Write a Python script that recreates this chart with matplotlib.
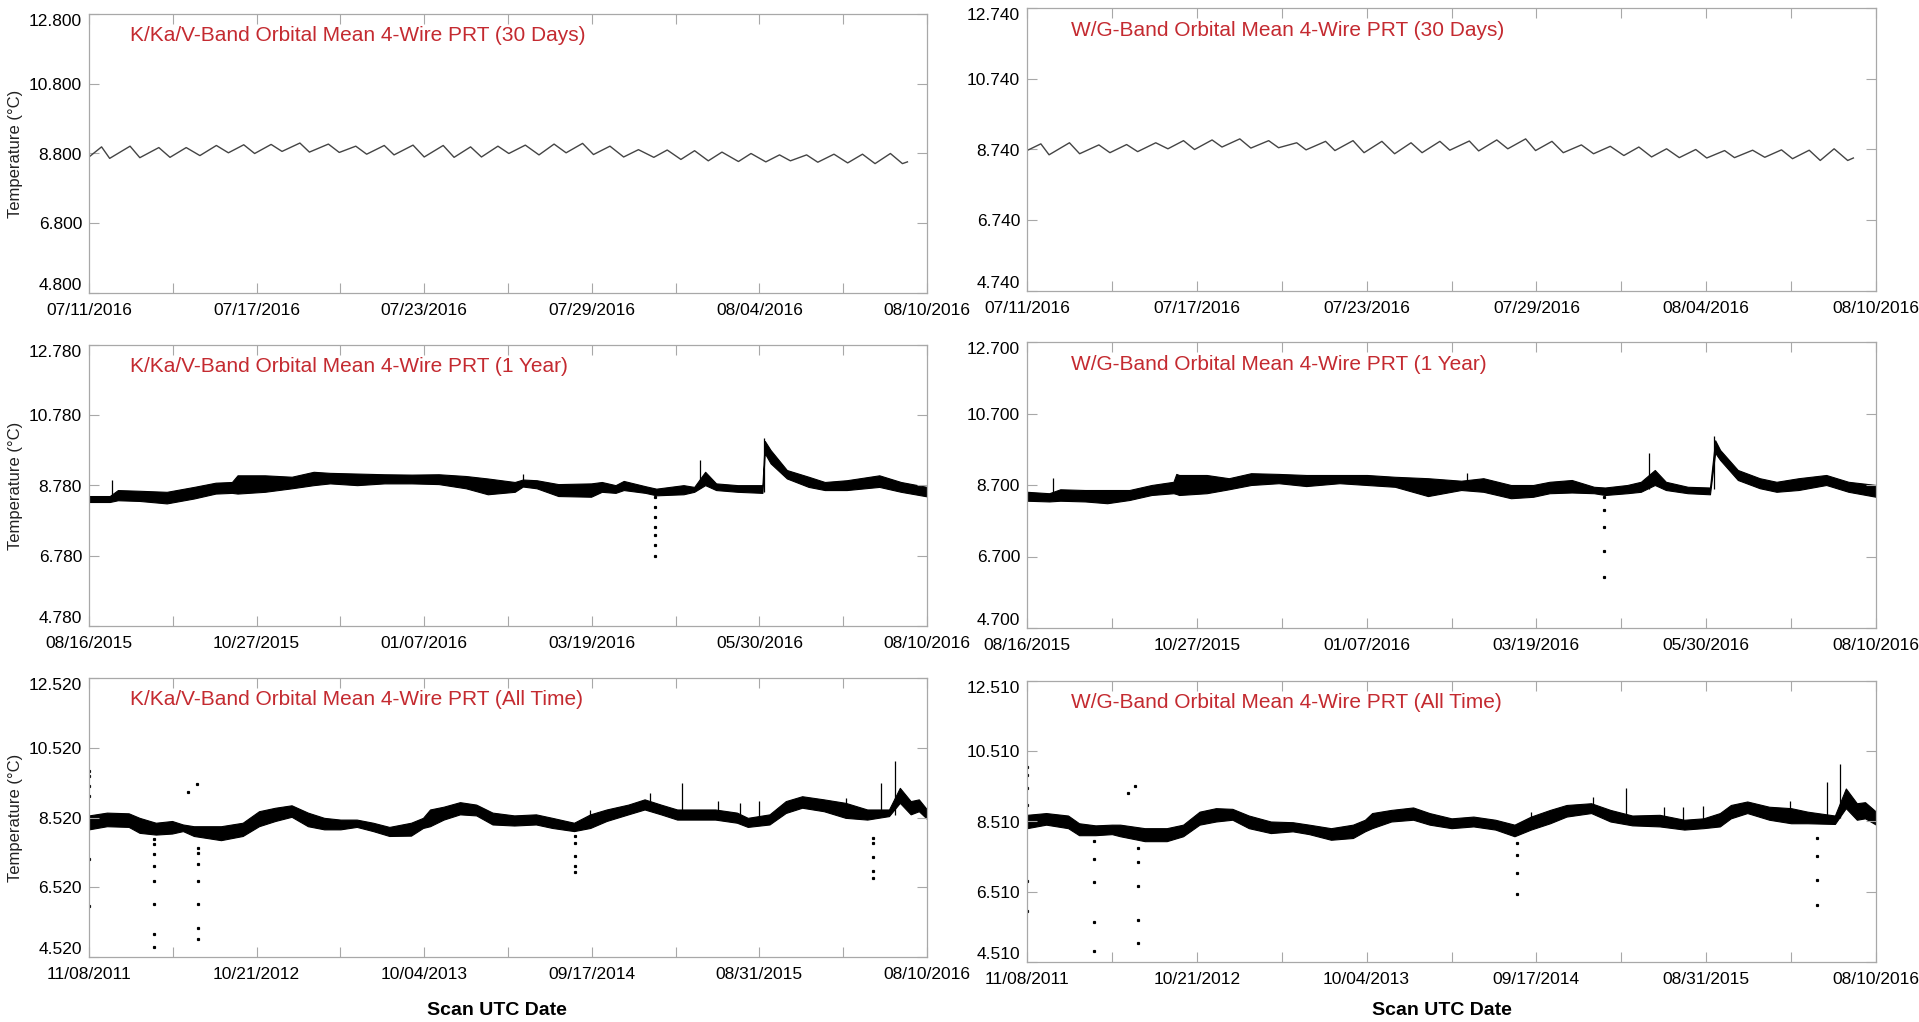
"""
Orbital mean 4-wire PRT temperatures, K/Ka/V-band and W/G-band,
shown over 30 days, 1 year and the whole mission.
"""

import matplotlib
matplotlib.use("Agg")
import matplotlib.pyplot as plt
import numpy as np

plt.rcParams["font.family"] = ["Liberation Sans", "DejaVu Sans"]

# ---------------------------------------------------------------------------
# Data (x = days since the panel's first date)
# ---------------------------------------------------------------------------

# 30-day panels: alternating peaks and troughs of the daily cycle
kkv_30_days = [0.0, 0.45, 0.74, 1.47, 1.82, 2.50, 2.90, 3.48, 3.97, 4.56, 4.99,
               5.54, 5.93, 6.52, 6.91, 7.55, 7.89, 8.57, 8.96, 9.55, 9.94,
               10.57, 10.92, 11.60, 12.00, 12.68, 13.07, 13.66, 14.05, 14.64,
               15.03, 15.62, 16.11, 16.65, 17.08, 17.67, 18.06, 18.65, 19.14,
               19.67, 20.22, 20.70, 21.19, 21.68, 22.17, 22.66, 23.25, 23.70,
               24.23, 24.72, 25.11, 25.69, 26.09, 26.67, 27.16, 27.69, 28.14,
               28.69, 29.12, 29.30]
kkv_30_vals = [8.70, 8.99, 8.66, 9.01, 8.68, 8.97, 8.69, 8.97, 8.74, 9.03, 8.82,
               9.05, 8.80, 9.06, 8.86, 9.10, 8.84, 9.07, 8.83, 9.01, 8.78,
               9.03, 8.76, 9.04, 8.70, 9.03, 8.69, 8.99, 8.70, 9.01,
               8.80, 9.04, 8.76, 9.07, 8.82, 9.09, 8.77, 9.01, 8.70,
               8.91, 8.69, 8.90, 8.63, 8.88, 8.59, 8.84, 8.57, 8.80,
               8.56, 8.76, 8.59, 8.76, 8.55, 8.78, 8.53, 8.78, 8.51,
               8.80, 8.51, 8.56]

wg_30_days = [0.0, 0.49, 0.78, 1.50, 1.86, 2.54, 2.93, 3.52, 3.91, 4.55, 4.98,
              5.53, 5.92, 6.54, 6.89, 7.52, 7.91, 8.54, 8.89, 9.53, 9.86,
              10.55, 10.88, 11.52, 11.91, 12.54, 12.99, 13.57, 13.96, 14.59,
              14.94, 15.63, 15.96, 16.60, 16.99, 17.62, 17.97, 18.55, 18.95,
              19.59, 20.02, 20.61, 21.09, 21.62, 22.07, 22.60, 23.05, 23.63,
              24.02, 24.65, 25.00, 25.64, 26.07, 26.66, 27.05, 27.64, 28.03,
              28.52, 29.00, 29.20]
wg_30_vals = [8.71, 8.90, 8.59, 8.93, 8.62, 8.87, 8.65, 8.88, 8.68, 8.93, 8.76,
              8.99, 8.74, 9.01, 8.81, 9.04, 8.78, 8.99, 8.79, 8.93, 8.73,
              8.97, 8.71, 8.99, 8.65, 8.97, 8.62, 8.93, 8.65, 8.97,
              8.72, 8.98, 8.70, 9.01, 8.76, 9.04, 8.71, 8.97, 8.65,
              8.87, 8.62, 8.83, 8.57, 8.81, 8.53, 8.76, 8.51, 8.74,
              8.50, 8.71, 8.51, 8.72, 8.52, 8.73, 8.48, 8.72, 8.43,
              8.76, 8.43, 8.50]

# 1-year panels: upper / lower edge of the orbital scatter band
kkv_1y_days = [0, 8.9, 12.4, 21.7, 33.4, 45.1, 54.4, 61.4, 63.8, 75.5, 87.1,
               96.5, 103.5, 115.2, 126.9, 138.6, 150.2, 161.9, 171.3, 182.9,
               186.4, 192.3, 201.6, 215.7, 220.3, 226.2, 229.7, 239.0, 243.7,
               255.4, 260.0, 264.7, 269.4, 278.7, 289.3, 290.3, 292.8, 299.8,
               309.1, 316.1, 325.5, 339.5, 348.8, 360]
kkv_1y_hi = [8.48, 8.48, 8.65, 8.63, 8.60, 8.74, 8.86, 8.88, 9.07, 9.07, 9.03,
             9.17, 9.14, 9.12, 9.10, 9.09, 9.10, 9.05, 8.98, 8.88,
             8.95, 8.93, 8.82, 8.84, 8.88, 8.79, 8.91, 8.76, 8.69,
             8.79, 8.74, 9.17, 8.84, 8.79, 8.79, 10.05, 9.79, 9.22,
             9.03, 8.88, 8.93, 9.07, 8.88, 8.74]
kkv_1y_lo = [8.31, 8.31, 8.36, 8.34, 8.27, 8.41, 8.55, 8.57, 8.55, 8.60, 8.70,
             8.79, 8.84, 8.79, 8.84, 8.84, 8.82, 8.70, 8.53, 8.60,
             8.75, 8.70, 8.48, 8.46, 8.60, 8.57, 8.65, 8.57, 8.50,
             8.53, 8.60, 8.79, 8.65, 8.60, 8.57, 9.70, 9.41, 8.98,
             8.74, 8.65, 8.65, 8.74, 8.60, 8.47]
kkv_1y_spike_days = [10.0, 186.4, 262.4, 289.9]
kkv_1y_spike_lo = [8.40, 8.80, 8.70, 8.60]
kkv_1y_spike_hi = [8.93, 9.12, 9.50, 10.12]
kkv_1y_out_days = [243.2] * 7
kkv_1y_out_vals = [8.46, 8.17, 7.89, 7.60, 7.37, 7.08, 6.77]

wg_1y_days = [0, 9.4, 14.1, 24.6, 34.0, 43.4, 52.8, 62.1, 63.3, 64.5, 76.2,
              85.6, 95.0, 106.7, 118.4, 132.5, 144.2, 156.0, 170.0, 184.1,
              193.5, 205.2, 214.6, 221.6, 231.0, 240.4, 245.1, 254.5, 260.3,
              266.2, 270.9, 280.2, 289.6, 291.8, 293.9, 301.4, 310.7, 317.8,
              327.2, 338.9, 348.3, 360]
wg_1y_hi = [8.51, 8.47, 8.58, 8.56, 8.56, 8.56, 8.70, 8.79, 9.01, 8.98, 8.98,
            8.89, 9.03, 9.01, 8.98, 8.98, 8.98, 8.93, 8.89, 8.82,
            8.89, 8.70, 8.70, 8.79, 8.84, 8.65, 8.63, 8.70, 8.79,
            9.12, 8.79, 8.65, 8.63, 9.95, 9.68, 9.12, 8.89, 8.79,
            8.89, 8.98, 8.79, 8.70]
wg_1y_lo = [8.26, 8.24, 8.26, 8.24, 8.19, 8.28, 8.42, 8.47, 8.45, 8.42, 8.47,
            8.58, 8.70, 8.75, 8.67, 8.75, 8.70, 8.65, 8.39, 8.56,
            8.51, 8.33, 8.37, 8.47, 8.49, 8.47, 8.42, 8.47, 8.51,
            8.70, 8.56, 8.47, 8.44, 9.60, 9.40, 8.84, 8.61, 8.51,
            8.56, 8.70, 8.51, 8.37]
wg_1y_spike_days = [11.0, 186.4, 263.8, 291.5]
wg_1y_spike_lo = [8.30, 8.60, 8.60, 8.60]
wg_1y_spike_hi = [8.89, 9.04, 9.60, 10.07]
wg_1y_out_days = [244.6] * 5
wg_1y_out_vals = [8.37, 8.00, 7.52, 6.84, 6.14]

# All-time panels
kkv_all_days = [0, 37.1, 82.2, 104.7, 138.5, 172.2, 194.7, 217.3, 273.5, 318.6,
                352.3, 386.1, 419.9, 453.7, 487.4, 521.2, 555.0, 588.7, 622.5,
                667.5, 692.3, 706.9, 735.1, 768.9, 802.6, 836.4, 881.4, 926.5,
                960.2, 1005.3, 1039.0, 1072.8, 1117.8, 1151.6, 1185.4, 1219.1,
                1241.6, 1297.9, 1343.0, 1365.5, 1410.5, 1444.3, 1478.1, 1523.1,
                1568.1, 1613.1, 1658.2, 1680.7, 1703.2, 1720.1, 1737]
kkv_all_hi = [8.58, 8.66, 8.64, 8.51, 8.37, 8.42, 8.32, 8.27, 8.27, 8.37,
              8.70, 8.80, 8.87, 8.66, 8.51, 8.46, 8.46, 8.37, 8.25,
              8.37, 8.51, 8.75, 8.83, 8.96, 8.89, 8.66, 8.58, 8.61,
              8.51, 8.37, 8.61, 8.75, 8.89, 9.04, 8.89, 8.75,
              8.75, 8.75, 8.66, 8.51, 8.61, 8.99, 9.13, 9.04,
              8.94, 8.75, 8.75, 9.37, 8.99, 9.04, 8.75]
kkv_all_lo = [8.18, 8.27, 8.25, 8.08, 8.03, 8.06, 8.13, 7.99, 7.87, 7.99,
              8.27, 8.42, 8.54, 8.27, 8.18, 8.18, 8.25, 8.13, 7.99,
              8.00, 8.22, 8.27, 8.46, 8.61, 8.58, 8.32, 8.29, 8.32,
              8.22, 8.13, 8.22, 8.42, 8.61, 8.75, 8.61, 8.46,
              8.46, 8.46, 8.37, 8.25, 8.32, 8.65, 8.80, 8.70,
              8.51, 8.46, 8.56, 8.94, 8.61, 8.70, 8.48]
kkv_all_spike_days = [1039.0, 1162.8, 1229.6, 1303.5, 1348.6, 1388.0, 1568.1,
                      1641.3, 1671.6]
kkv_all_spike_lo = [8.50, 8.80, 8.60, 8.60, 8.50, 8.50, 8.70, 8.60, 8.60]
kkv_all_spike_hi = [8.73, 9.23, 9.50, 8.99, 8.94, 8.99, 9.09, 9.52, 10.14]
kkv_all_out_days = ([0.0] * 6 + [135.1] * 8 + [206.0, 222.9] + [225.1] * 7
                    + [1007.5] * 5 + [1624.4] * 5)
kkv_all_out_vals = [9.85, 9.71, 9.42, 9.13, 7.32, 5.98,
                    7.89, 7.75, 7.46, 7.14, 6.69, 6.05, 5.19, 4.81,
                    9.25, 9.47,
                    7.65, 7.49, 7.19, 6.69, 6.04, 5.35, 5.05,
                    7.99, 7.80, 7.41, 7.12, 6.96,
                    7.94, 7.80, 7.38, 6.98, 6.79]

wg_all_days = [0, 39.2, 84.0, 106.5, 140.1, 173.7, 190.5, 240.9, 285.8, 319.4,
               353.0, 386.6, 420.2, 453.8, 498.7, 543.5, 577.1, 621.9, 666.8,
               691.4, 706.0, 745.2, 790.0, 823.6, 868.5, 913.3, 958.1, 997.3,
               1031.0, 1070.2, 1103.8, 1154.2, 1193.4, 1238.3, 1294.3, 1344.7,
               1383.9, 1417.6, 1440.0, 1473.6, 1518.4, 1563.2, 1596.9, 1652.9,
               1675.3, 1697.8, 1714.6, 1737]
wg_all_hi = [8.70, 8.75, 8.68, 8.46, 8.40, 8.42, 8.42, 8.32, 8.32, 8.42,
             8.79, 8.89, 8.87, 8.68, 8.51, 8.49, 8.42, 8.32, 8.42,
             8.56, 8.75, 8.84, 8.91, 8.75, 8.60, 8.65, 8.56, 8.42,
             8.65, 8.84, 8.98, 9.03, 8.84, 8.68, 8.70, 8.56,
             8.60, 8.75, 8.98, 9.08, 8.93, 8.89, 8.79, 8.68,
             9.45, 9.03, 9.06, 8.79]
wg_all_lo = [8.32, 8.42, 8.32, 8.12, 8.12, 8.15, 8.09, 7.95, 7.95, 8.09,
             8.42, 8.51, 8.56, 8.32, 8.18, 8.23, 8.15, 7.99, 8.04,
             8.23, 8.32, 8.51, 8.56, 8.42, 8.32, 8.37, 8.28, 8.09,
             8.28, 8.46, 8.65, 8.75, 8.51, 8.40, 8.37, 8.28,
             8.32, 8.37, 8.60, 8.75, 8.56, 8.46, 8.46, 8.44,
             8.89, 8.56, 8.60, 8.42]
wg_all_spike_days = [1031.0, 1157.6, 1224.8, 1303.3, 1342.5, 1383.9, 1561.0,
                     1636.1, 1664.1]
wg_all_spike_lo = [8.50, 8.80, 8.60, 8.60, 8.50, 8.50, 8.70, 8.60, 8.60]
wg_all_spike_hi = [8.79, 9.22, 9.47, 8.93, 8.93, 8.96, 9.08, 9.64, 10.16]
wg_all_out_days = ([0.0] * 6 + [137.8] * 5 + [207.3, 220.8] + [227.5] * 5
                   + [1002.9] * 4 + [1617.0] * 4)
wg_all_out_vals = [10.06, 9.83, 9.45, 8.98, 6.81, 5.97,
                   7.95, 7.43, 6.80, 5.64, 4.82,
                   9.31, 9.53,
                   7.76, 7.35, 6.66, 5.70, 5.05,
                   7.90, 7.57, 7.05, 6.44,
                   8.04, 7.54, 6.84, 6.14]

# Axis labels
labels_30d = ["07/11/2016", "07/17/2016", "07/23/2016", "07/29/2016",
              "08/04/2016", "08/10/2016"]
labels_1y = ["08/16/2015", "10/27/2015", "01/07/2016", "03/19/2016",
             "05/30/2016", "08/10/2016"]
labels_all = ["11/08/2011", "10/21/2012", "10/04/2013", "09/17/2014",
              "08/31/2015", "08/10/2016"]
span_30d, span_1y, span_all = 30, 360, 1737

# ---------------------------------------------------------------------------
# Figure
# ---------------------------------------------------------------------------

W, H = 1919, 1022
RED = "#c42a30"
FRAME = "#a8a8a8"

fig = plt.figure(figsize=(W / 100, H / 100), dpi=100)


def _axes(left, top, right, bottom):
    return fig.add_axes([left / W, 1 - bottom / H, (right - left) / W, (bottom - top) / H])


def _style(ax, span, xlabels, ymin, title, ylabel, title_x):
    ax.set_xlim(0, span)
    ax.set_ylim(ymin, ymin + 8)
    ax.set_xticks(np.linspace(0, span, 6))
    ax.set_xticks(np.linspace(0, span, 11)[1::2], minor=True)
    ax.set_xticklabels(xlabels)
    yt = [ymin + 2 * k for k in range(5)]
    ax.set_yticks(yt)
    ax.set_yticklabels([f"{v:.3f}" for v in yt])
    for s in ax.spines.values():
        s.set_color(FRAME)
        s.set_linewidth(0.9)
    ax.tick_params(which="both", direction="in", length=7, width=0.8,
                   color=FRAME, top=True, right=True, labelsize=12.5,
                   labelcolor="black")
    ax.tick_params(axis="x", pad=7)
    ax.tick_params(axis="y", pad=5)
    ax.tick_params(axis="y", which="minor", left=False, right=False)
    ticks = ax.yaxis.get_major_ticks()
    ticks[0].label1.set_va("bottom")
    ticks[-1].label1.set_va("top")
    ax.text(title_x, 0.922, title, transform=ax.transAxes, color=RED,
            fontsize=15, ha="left", va="center")
    if ylabel:
        ax.set_ylabel("Temperature (°C)", fontsize=12, color="#222222")
        ax.yaxis.set_label_coords(-0.079, 0.5)


def _band(ax, days, hi, lo, sp_days, sp_lo, sp_hi, out_days, out_vals):
    ax.fill_between(days, lo, hi, color="black", lw=0.8, edgecolor="black")
    ax.vlines(sp_days, sp_lo, sp_hi, color="black", lw=0.9)
    ax.plot(out_days, out_vals, ls="none", marker="s", ms=1.3, color="black")


# Row 1 - 30 days
ax = _axes(89, 14, 927, 293)
ax.plot(kkv_30_days, kkv_30_vals, color="#444444", lw=1.0)
_style(ax, span_30d, labels_30d, 4.8,
       "K/Ka/V-Band Orbital Mean 4-Wire PRT (30 Days)", True, 0.049)

ax = _axes(1027, 8, 1876, 291)
ax.plot(wg_30_days, wg_30_vals, color="#444444", lw=1.0)
_style(ax, span_30d, labels_30d, 4.74,
       "W/G-Band Orbital Mean 4-Wire PRT (30 Days)", False, 0.052)

# Row 2 - 1 year
ax = _axes(89, 345, 927, 626)
_band(ax, kkv_1y_days, kkv_1y_hi, kkv_1y_lo, kkv_1y_spike_days,
      kkv_1y_spike_lo, kkv_1y_spike_hi, kkv_1y_out_days, kkv_1y_out_vals)
_style(ax, span_1y, labels_1y, 4.78,
       "K/Ka/V-Band Orbital Mean 4-Wire PRT (1 Year)", True, 0.049)

ax = _axes(1027, 342, 1876, 628)
_band(ax, wg_1y_days, wg_1y_hi, wg_1y_lo, wg_1y_spike_days,
      wg_1y_spike_lo, wg_1y_spike_hi, wg_1y_out_days, wg_1y_out_vals)
_style(ax, span_1y, labels_1y, 4.70,
       "W/G-Band Orbital Mean 4-Wire PRT (1 Year)", False, 0.052)

# Row 3 - all time
ax = _axes(89, 678, 927, 957)
_band(ax, kkv_all_days, kkv_all_hi, kkv_all_lo, kkv_all_spike_days,
      kkv_all_spike_lo, kkv_all_spike_hi, kkv_all_out_days, kkv_all_out_vals)
_style(ax, span_all, labels_all, 4.52,
       "K/Ka/V-Band Orbital Mean 4-Wire PRT (All Time)", True, 0.049)

ax = _axes(1027, 681, 1876, 962)
_band(ax, wg_all_days, wg_all_hi, wg_all_lo, wg_all_spike_days,
      wg_all_spike_lo, wg_all_spike_hi, wg_all_out_days, wg_all_out_vals)
_style(ax, span_all, labels_all, 4.51,
       "W/G-Band Orbital Mean 4-Wire PRT (All Time)", False, 0.052)

for cx in (497, 1442):
    fig.text(cx / W, 1 - 1010 / H, "Scan UTC Date", fontsize=14,
             fontweight="bold", ha="center", va="center")

fig.savefig("out.png", dpi=100)
